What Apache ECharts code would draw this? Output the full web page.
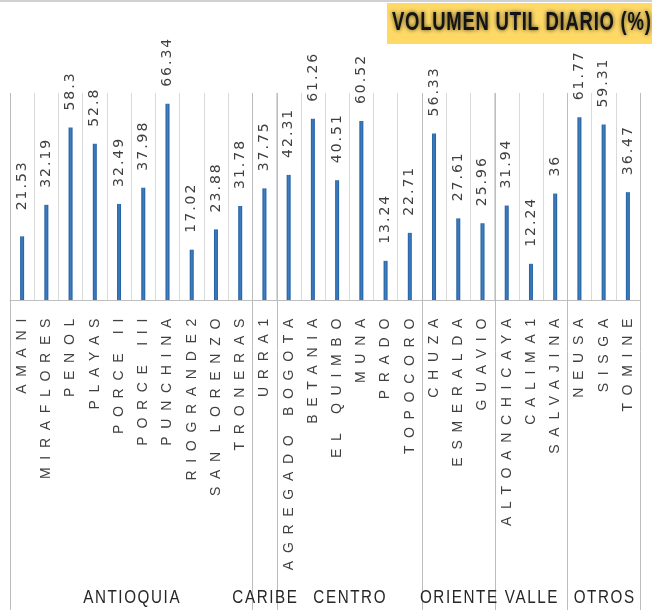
<!DOCTYPE html>
<html><head><meta charset="utf-8">
<script src="https://cdn.jsdelivr.net/npm/echarts@6/dist/echarts.min.js"></script>
<style>html,body{margin:0;padding:0;background:#fff}#c{width:652px;height:610px}</style>
</head><body><div id="c"></div>
<script>
// letter-spacing support: a font family marker "lspNdM" sets canvas letterSpacing to N.M px
(function(){
  var P = CanvasRenderingContext2D.prototype;
  var d = Object.getOwnPropertyDescriptor(P, 'font');
  if (!d || !('letterSpacing' in P)) return;
  Object.defineProperty(P, 'font', {
    configurable: true,
    get: function(){ return d.get.call(this); },
    set: function(v){
      d.set.call(this, v);
      var m = /lsp(\d+)(?:d(\d+))?/.exec(v);
      this.letterSpacing = m ? (m[1] + (m[2] ? '.' + m[2] : '')) + 'px' : '0px';
    }
  });
})();

var categories = ['AMANI','MIRAFLORES','PENOL','PLAYAS','PORCE II','PORCE III','PUNCHINA','RIOGRANDE2','SAN LORENZO','TRONERAS',
  'URRA1',
  'AGREGADO BOGOTA','BETANIA','EL QUIMBO','MUNA','PRADO','TOPOCORO',
  'CHUZA','ESMERALDA','GUAVIO',
  'ALTOANCHICAYA','CALIMA1','SALVAJINA',
  'NEUSA','SISGA','TOMINE'];
var values = [21.53,32.19,58.3,52.8,32.49,37.98,66.34,17.02,23.88,31.78,
  37.75,
  42.31,61.26,40.51,60.52,13.24,22.71,
  56.33,27.61,25.96,
  31.94,12.24,36,
  61.77,59.31,36.47];
var groups = ['ANTIOQUIA','CARIBE','CENTRO','ORIENTE','VALLE','OTROS'];
var groupSizes = [10,1,6,3,3,3];
var titleText = 'VOLUMEN UTIL DIARIO (%)';

var chart = echarts.init(document.getElementById('c'), null, {renderer:'canvas'});
var barColor = new echarts.graphic.LinearGradient(0,0,1,0,[
  {offset:0,color:'#1f5c9c'},{offset:0.5,color:'#3f7fc2'},{offset:1,color:'#1f5c9c'}]);

chart.setOption({
  animation:false,
  backgroundColor:'#ffffff',
  grid:{left:10, right:12, top:93, bottom:310, containLabel:false, outerBoundsMode:'none'},
  xAxis:{
    type:'category', data:categories, boundaryGap:true,
    axisLine:{show:true, lineStyle:{color:'#bfbfbf', width:1}},
    axisTick:{show:false},
    splitLine:{show:true, interval:0, lineStyle:{color:'#d9d9d9', width:1}},
    axisLabel:{
      interval:0, rotate:90, margin:11,
      fontFamily:"lsp7d7, 'Liberation Sans', sans-serif", fontSize:14, color:'#404040'
    }
  },
  yAxis:{type:'value', min:0, max:70, show:false, splitLine:{show:false}},
  series:[{
    type:'bar', barWidth:4,
    data: values.map(function(v,i){ return i===0 ? {value:v, label:{distance:26}} : v; }),
    itemStyle:{color:barColor},
    label:{
      show:true, position:'top', rotate:90, align:'left', verticalAlign:'middle', distance:17,
      fontFamily:"lsp2, 'DejaVu Sans', sans-serif", fontSize:14, color:'#404040'
    }
  }]
});

function px(i){ return chart.convertToPixel({xAxisIndex:0}, categories[i]); }
var bw = px(1) - px(0);
var yTop = chart.convertToPixel({yAxisIndex:0}, 70);
var bounds = [0];
groupSizes.forEach(function(s){ bounds.push(bounds[bounds.length-1] + s); });
function bx(k){ return k < categories.length ? px(k) - bw/2 : px(categories.length-1) + bw/2; }

var g = [
  {type:'rect', shape:{x:0,y:0,width:652,height:2}, style:{fill:'#d0d0d0'}, z:10},
  {type:'rect', shape:{x:387,y:3,width:270,height:41}, style:{fill:'#FFD966'}, z:10},
  {type:'text', x:392, y:23, scaleX:0.74, z:11, style:{
    text:titleText, fontFamily:"lsp1, 'Liberation Sans', sans-serif", fontWeight:'bold', fontSize:25,
    fill:'#141414', align:'left', verticalAlign:'middle', textAlign:'left', textVerticalAlign:'middle',
    textShadowColor:'rgba(0,0,0,0.7)', textShadowBlur:4
  }}
];
bounds.forEach(function(k){
  var x = Math.round(bx(k)) + 0.5;
  g.push({type:'line', shape:{x1:x, y1:Math.round(yTop), x2:x, y2:610}, style:{stroke:'#bcbcbc', lineWidth:1}, z:5});
});
groups.forEach(function(name, j){
  var cx = (bx(bounds[j]) + bx(bounds[j+1]))/2 + 1;
  g.push({type:'text', x:cx, y:598, scaleX:0.8, style:{
    text:name, fontFamily:"lsp2, 'Liberation Sans', sans-serif",
    fontSize:19, fill:'#262626',
    align:'center', verticalAlign:'middle', textAlign:'center', textVerticalAlign:'middle'
  }, z:6});
});
chart.setOption({graphic:g});
</script>
</body></html>
